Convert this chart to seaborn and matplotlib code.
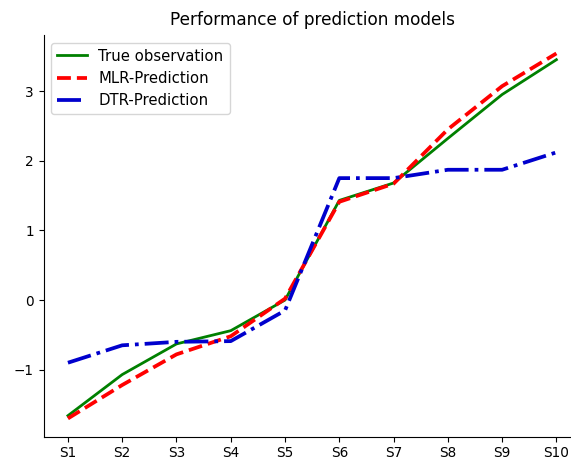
import matplotlib
matplotlib.use("Agg")
import matplotlib.pyplot as plt
import seaborn as sns
import pandas as pd

# Samples and model outputs
samples = ["S1", "S2", "S3", "S4", "S5", "S6", "S7", "S8", "S9", "S10"]
true_obs = [-1.66, -1.07, -0.63, -0.44, 0.00, 1.43, 1.68, 2.32, 2.95, 3.45]
mlr_pred = [-1.70, -1.22, -0.78, -0.52, 0.02, 1.41, 1.67, 2.45, 3.07, 3.54]
dtr_pred = [-0.90, -0.65, -0.60, -0.59, -0.15, 1.75, 1.75, 1.87, 1.87, 2.12]

df = pd.DataFrame({"sample": samples, "true": true_obs, "mlr": mlr_pred, "dtr": dtr_pred})

fig = plt.figure(figsize=(5.71, 4.61), dpi=100)
ax = fig.add_axes([0.0762, 0.0527, 0.941, 0.871])

sns.lineplot(data=df, x="sample", y="true", ax=ax, sort=False, color="green",
             linewidth=2.0, label="True observation")
sns.lineplot(data=df, x="sample", y="mlr", ax=ax, sort=False, color="red",
             linewidth=2.7, linestyle="--", label="MLR-Prediction")
sns.lineplot(data=df, x="sample", y="dtr", ax=ax, sort=False, color="mediumblue",
             linewidth=2.7, linestyle="-.", label="DTR-Prediction")

ax.set_xlabel("")
ax.set_ylabel("")
ax.set_title("Performance of prediction models", fontsize=12.2, pad=7)
ax.tick_params(labelsize=9.8)
ax.set_yticks([-1, 0, 1, 2, 3])
ax.set_yticklabels(["\u22121", "0", "1", "2", "3"])
ax.legend(loc="upper left", fontsize=10.7)
sns.despine(ax=ax)

fig.savefig("out.png", dpi=100)
